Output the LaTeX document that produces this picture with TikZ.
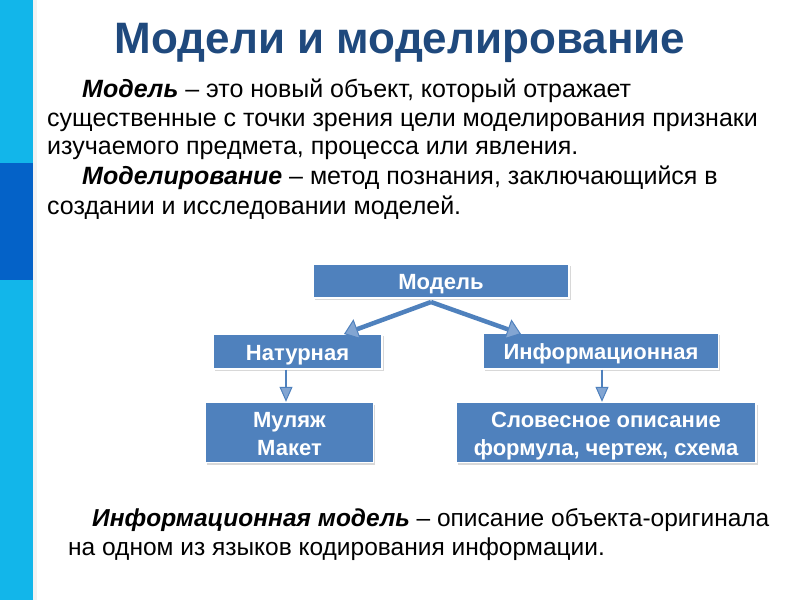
\documentclass[tikz,border=0pt]{standalone}
\usepackage{fontspec}
\setmainfont{Liberation Sans}
\usetikzlibrary{arrows.meta,shadows}
\definecolor{barlight}{RGB}{18,182,234}
\definecolor{bardark}{RGB}{4,98,200}
\definecolor{titleblue}{RGB}{31,73,125}
\definecolor{boxblue}{RGB}{79,129,189}
\definecolor{tipfill}{RGB}{130,165,210}
\tikzset{
  txt/.style={anchor=base west, inner sep=0pt, font=\fontsize{25}{29}\selectfont, text=black},
  btxt/.style={anchor=base west, inner sep=0pt, font=\fontsize{24.5}{29}\selectfont, text=black},
  box/.style={draw=white, line width=1.4pt, fill=boxblue, text=white,
    font=\bfseries\fontsize{22}{28}\selectfont, inner sep=0pt,
    drop shadow={opacity=0.3, shadow xshift=1.5pt, shadow yshift=-2pt}},
  bigarrow/.style={draw=boxblue, line width=4.5pt,
    -{Triangle[width=21pt,length=14pt,fill=tipfill,line width=1pt]}},
  smallarrow/.style={draw=boxblue, line width=2.2pt,
    -{Triangle[width=13pt,length=15pt,fill=tipfill,line width=1pt]}}
}
\newcommand{\bi}[1]{\textbf{\textit{#1}}}
\newcommand{\bone}[1]{\raisebox{0pt}[17.5pt][0pt]{#1}}
\newcommand{\btwo}[1]{\raisebox{0pt}[17pt][28pt]{\begin{tabular}[t]{@{}c@{}}#1\end{tabular}}}
\begin{document}
\begin{tikzpicture}[x=1pt,y=-1pt]
\useasboundingbox (0,0) rectangle (800,600);
\fill[white] (0,0) rectangle (800,600);
% left bar
\fill[barlight] (0,0) rectangle (33,600);
\fill[bardark] (0,163) rectangle (33,280);
\fill[black!5] (33,0) rectangle (37,600);
% title
\node[anchor=base, inner sep=0pt, text=titleblue, font=\bfseries\fontsize{44}{48}\selectfont] (title) at (400,53) {Модели и моделирование};
% paragraph
\node[txt] (l1) at (82,97) {\bi{Модель} – это новый объект, который отражает};
\node[txt] (l2) at (47,126) {существенные с точки зрения цели моделирования признаки};
\node[txt] (l3) at (47,154) {изучаемого предмета, процесса или явления.};
\node[txt] (l4) at (82,184) {\bi{Моделирование} – метод познания, заключающийся в};
\node[txt] (l5) at (47,214) {создании и исследовании моделей.};
% boxes
\node[box, minimum width=256pt, minimum height=34pt] (model) at (441,281) {\bone{Модель}};
\node[box, minimum width=169pt, minimum height=35pt] (nat) at (297.5,351.5) {\bone{Натурная}};
\node[box, minimum width=235pt, minimum height=36pt] (inf) at (601,351) {\bone{Информационная}};
\node[box, minimum width=168pt, minimum height=60pt] (mul) at (289.5,432.5) {\btwo{Муляж\\Макет}};
\node[box, minimum width=300pt, minimum height=60pt] (slo) at (606,432.5) {\btwo{Словесное описание\\формула, чертеж, схема}};
% arrows
\coordinate (split) at (431,302);
\coordinate (natin) at (344,334);
\coordinate (infin) at (521,334);
\draw[bigarrow] (split) -- (natin);
\draw[bigarrow] (split) -- (infin);
\draw[smallarrow] (nat.south -| 286,0) -- (mul.north -| 286,0);
\draw[smallarrow] (inf.south -| 602,0) -- (slo.north -| 602,0);
% bottom text
\node[btxt] (b1) at (92,526) {\bi{Информационная модель} – описание объекта-оригинала};
\node[btxt] (b2) at (68,555) {на одном из языков кодирования информации.};
\end{tikzpicture}
\end{document}
